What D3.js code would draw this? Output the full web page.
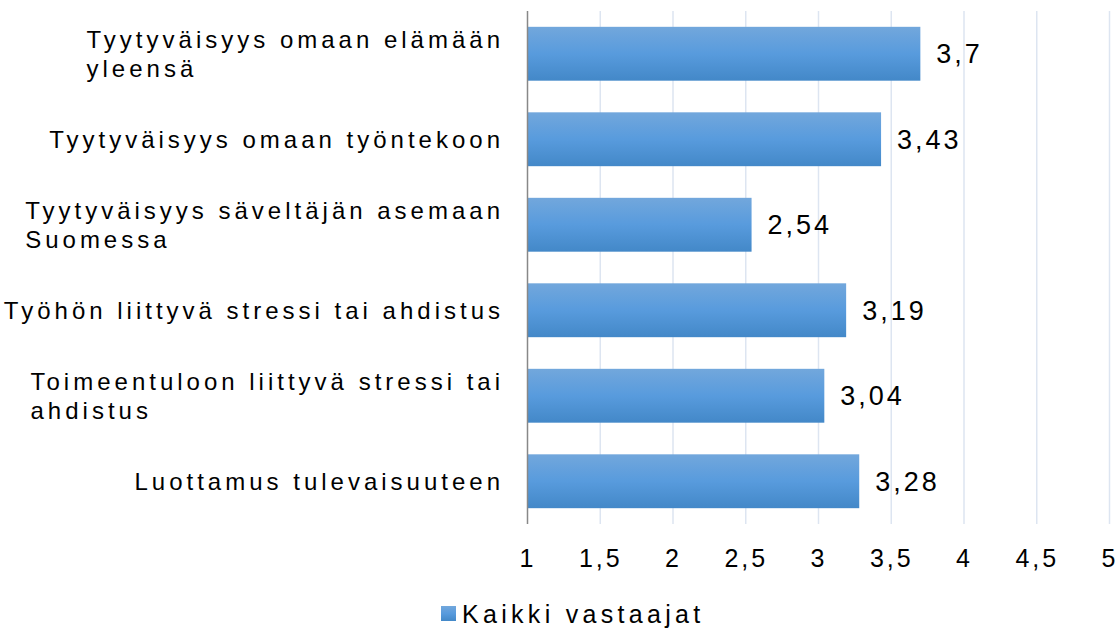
<!DOCTYPE html>
<html>
<head>
<meta charset="utf-8">
<script src="https://cdn.jsdelivr.net/npm/d3@7"></script>
<style>
  body { margin: 0; background: #fff; }
  svg { display: block; font-family: "Liberation Sans", Arial, sans-serif; }
</style>
</head>
<body>
<svg id="canvas"></svg>
<script>
"use strict";

// category labels (lines already split as in the picture)
const categories = [
    ["Tyytyväisyys omaan elämään", "yleensä"],
    ["Tyytyväisyys omaan työntekoon"],
    ["Tyytyväisyys säveltäjän asemaan", "Suomessa"],
    ["Työhön liittyvä stressi tai ahdistus"],
    ["Toimeentuloon liittyvä stressi tai", "ahdistus"],
    ["Luottamus tulevaisuuteen"]
];
const values = [3.7, 3.43, 2.54, 3.19, 3.04, 3.28];
const valueLabels = ["3,7", "3,43", "2,54", "3,19", "3,04", "3,28"];
const ticks = [1, 1.5, 2, 2.5, 3, 3.5, 4, 4.5, 5];
const tickLabels = ["1", "1,5", "2", "2,5", "3", "3,5", "4", "4,5", "5"];
const seriesName = "Kaikki vastaajat";

let width = 1119;
let height = 630;
let plotLeft = 527.5, plotRight = 1109.5, plotTop = 11, plotBottom = 524;

let canvas = d3.select('#canvas')
    .attr('width', width)
    .attr('height', height);

let defs = canvas.append('defs');
let grad = defs.append('linearGradient')
    .attr('id', 'barGrad')
    .attr('x1', 0).attr('y1', 0).attr('x2', 0).attr('y2', 1);
grad.append('stop').attr('offset', '0%').attr('stop-color', '#72a7dc');
grad.append('stop').attr('offset', '50%').attr('stop-color', '#589bdd');
grad.append('stop').attr('offset', '100%').attr('stop-color', '#4388c8');

let xScale = d3.scaleLinear()
    .domain([1, 5])
    .range([plotLeft, plotRight]);

let yScale = d3.scaleBand()
    .domain(d3.range(categories.length))
    .range([plotTop, plotBottom])
    .paddingInner(0.37)
    .paddingOuter(0.185);

// gridlines
canvas.append('g')
    .selectAll('line')
    .data(ticks.slice(1))
    .enter()
    .append('line')
    .attr('x1', d => xScale(d)).attr('x2', d => xScale(d))
    .attr('y1', plotTop).attr('y2', plotBottom)
    .attr('stroke', '#dde5f1')
    .attr('stroke-width', 1.5);

// bars
canvas.append('g')
    .selectAll('rect')
    .data(values)
    .enter()
    .append('rect')
    .attr('x', xScale(1))
    .attr('y', (d, i) => yScale(i))
    .attr('width', d => xScale(d) - xScale(1))
    .attr('height', yScale.bandwidth())
    .attr('fill', 'url(#barGrad)');

// vertical axis line
canvas.append('line')
    .attr('x1', xScale(1)).attr('x2', xScale(1))
    .attr('y1', plotTop).attr('y2', plotBottom)
    .attr('stroke', '#888888')
    .attr('stroke-width', 1.5);

// value labels
canvas.append('g')
    .selectAll('text')
    .data(values)
    .enter()
    .append('text')
    .attr('x', d => xScale(d) + 16)
    .attr('y', (d, i) => yScale(i) + yScale.bandwidth() / 2)
    .attr('dy', '0.35em')
    .style('font-size', '27px')
    .style('letter-spacing', '3px')
    .attr('fill', '#000')
    .text((d, i) => valueLabels[i]);

// x axis tick labels
let xAxis = d3.axisBottom(xScale)
    .tickValues(ticks)
    .tickSize(0)
    .tickPadding(0)
    .tickFormat((d, i) => tickLabels[i]);

let xg = canvas.append('g')
    .attr('transform', 'translate(0,' + plotBottom + ')')
    .call(xAxis);
xg.select('.domain').remove();
xg.selectAll('text')
    .attr('y', 43)
    .attr('dy', 0)
    .attr('font-family', null)
    .attr('font-size', null)
    .style('font-size', '25px')
    .style('letter-spacing', '3px')
    .attr('fill', '#000');

// category labels: block right-aligned, lines left-aligned
let lineHeight = 29;
let labelGroups = canvas.append('g')
    .selectAll('g')
    .data(categories)
    .enter()
    .append('g');

labelGroups.each(function (lines, i) {
    let g = d3.select(this);
    let cy = yScale(i) + yScale.bandwidth() / 2;
    let texts = lines.map((line, j) => g.append('text')
        .attr('y', cy + (j - (lines.length - 1) / 2) * lineHeight)
        .attr('dy', '0.35em')
        .style('font-size', '24px')
        .style('letter-spacing', '4px')
        .attr('fill', '#000')
        .text(line));
    let maxW = d3.max(texts, t => t.node().getComputedTextLength());
    texts.forEach(t => t.attr('x', 500 + 4 - maxW));
});

// legend
let legend = canvas.append('g');
legend.append('rect')
    .attr('x', 441).attr('y', 606)
    .attr('width', 15).attr('height', 15)
    .attr('fill', 'url(#barGrad)');
legend.append('text')
    .attr('x', 462)
    .attr('y', 623)
    .style('font-size', '25px')
    .style('letter-spacing', '4.3px')
    .attr('fill', '#000')
    .text(seriesName);
</script>
</body>
</html>
